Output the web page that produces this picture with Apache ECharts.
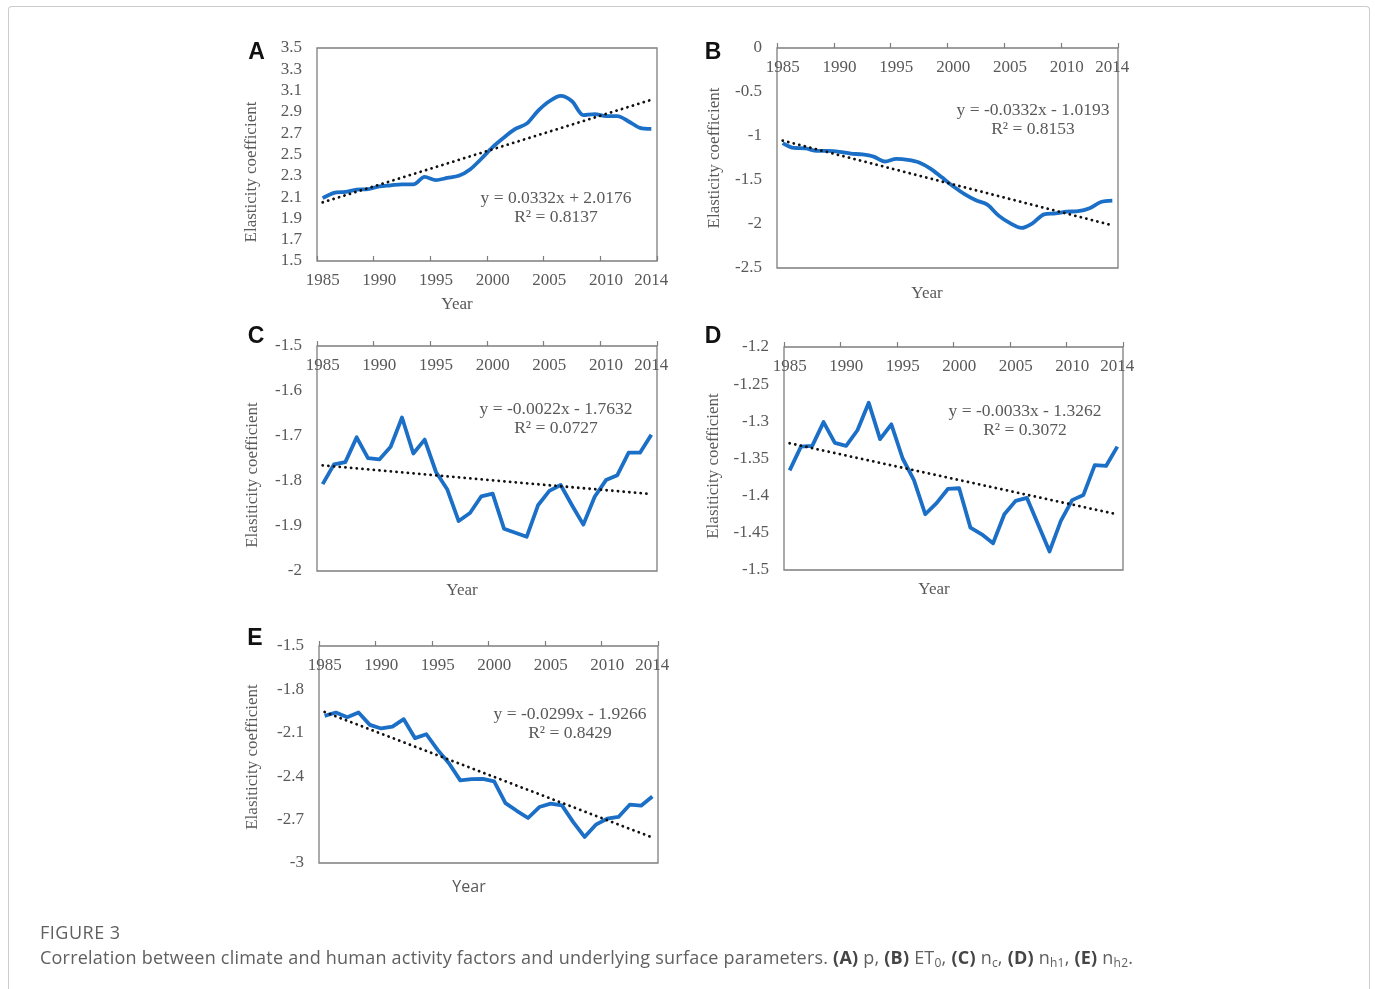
<!DOCTYPE html>
<html>
<head>
<meta charset="utf-8">
<script src="https://cdn.jsdelivr.net/npm/echarts@6/dist/echarts.min.js"></script>
<style>
  html, body { margin: 0; padding: 0; background: #fff; width: 1375px; height: 989px; overflow: hidden; }
  #frame { position: absolute; left: 8px; top: 6px; width: 1360px; height: 1010px;
           border: 1.5px solid #cccccc; border-bottom: none; border-radius: 4px 4px 0 0; }
  #chart { position: absolute; left: 0; top: 0; width: 1375px; height: 989px; }
  #caption { position: absolute; left: 40px; top: 920px; font-family: 'Open Sans', sans-serif; color: #606060; }
  #caption .head { font-size: 18px; line-height: 25px; letter-spacing: 0.5px; }
  #caption .body { font-size: 18px; line-height: 25px; letter-spacing: 0.22px; white-space: nowrap; }
  #caption b { color: #454545; }
  #caption sub { font-size: 12px; vertical-align: -3px; line-height: 0; }
</style>
</head>
<body>
<div id="frame"></div>
<div id="chart"></div>
<div id="caption">
  <div class="head">FIGURE 3</div>
  <div class="body">Correlation between climate and human activity factors and underlying surface parameters. <b>(A)</b> p, <b>(B)</b> ET<sub>0</sub>, <b>(C)</b> n<sub>c</sub>, <b>(D)</b> n<sub>h1</sub>, <b>(E)</b> n<sub>h2</sub>.</div>
</div>
<script>
// Years on the category axis
const years = ['1985','1986','1987','1988','1989','1990','1991','1992','1993','1994',
               '1995','1996','1997','1998','1999','2000','2001','2002','2003','2004',
               '2005','2006','2007','2008','2009','2010','2011','2012','2013','2014'];

// Elasticity coefficients per year
const seriesA = [2.09, 2.14, 2.15, 2.17, 2.175, 2.20, 2.21, 2.22, 2.22, 2.29,
                 2.26, 2.28, 2.30, 2.36, 2.46, 2.57, 2.66, 2.74, 2.79, 2.91,
                 3.00, 3.05, 3.00, 2.87, 2.88, 2.86, 2.86, 2.81, 2.75, 2.74];
const seriesB = [-1.08, -1.136, -1.14, -1.17, -1.17, -1.18, -1.20, -1.21, -1.235, -1.29,
                 -1.26, -1.27, -1.30, -1.37, -1.47, -1.57, -1.66, -1.73, -1.78, -1.905,
                 -1.99, -2.045, -1.99, -1.89, -1.88, -1.86, -1.855, -1.82, -1.75, -1.735];
const seriesC = [-1.807, -1.763, -1.758, -1.703, -1.749, -1.752, -1.724, -1.659, -1.739, -1.708,
                 -1.78, -1.819, -1.889, -1.871, -1.834, -1.828, -1.906, -1.915, -1.924, -1.854,
                 -1.822, -1.809, -1.854, -1.897, -1.835, -1.798, -1.787, -1.737, -1.737, -1.697];
const seriesD = [-1.366, -1.334, -1.333, -1.301, -1.329, -1.333, -1.312, -1.275, -1.324, -1.304,
                 -1.35, -1.379, -1.425, -1.41, -1.391, -1.39, -1.443, -1.452, -1.464, -1.425,
                 -1.407, -1.403, -1.439, -1.475, -1.434, -1.406, -1.399, -1.359, -1.36, -1.334];
const seriesE = [-1.983, -1.96, -1.992, -1.96, -2.045, -2.07, -2.057, -2.006, -2.137, -2.11,
                 -2.218, -2.31, -2.429, -2.42, -2.418, -2.436, -2.586, -2.639, -2.689, -2.613,
                 -2.59, -2.602, -2.717, -2.82, -2.735, -2.694, -2.682, -2.597, -2.604, -2.54];

// Linear trend coefficients (x = 1 for 1985) and R squared
const slopes     = [0.0332, -0.0332, -0.0022, -0.0033, -0.0299];
const intercepts = [2.0176, -1.0193, -1.7632, -1.3262, -1.9266];
const rSquared   = ['0.8137', '0.8153', '0.0727', '0.3072', '0.8429'];

// Y axis ranges [min, max, interval]
const yRanges = [[1.5, 3.5, 0.2], [-2.5, 0, 0.5], [-2, -1.5, 0.1], [-1.5, -1.2, 0.05], [-3, -1.5, 0.3]];

const panelLetters = ['A', 'B', 'C', 'D', 'E'];
const yTitles = ['Elasticity coefficient', 'Elasticity coefficient', 'Elasiticity coefficient',
                 'Elasiticity coefficient', 'Elasiticity coefficient'];
const xTitle = 'Year';
const allSeries = [seriesA, seriesB, seriesC, seriesD, seriesE];

// Layout of each panel
const layout = [
  { grid: [317, 48, 340, 213], xPos: 'bottom', smooth: 0.3, letter: [256.5, 53], yTitle: [252, 172], xTitleAt: [457, 305], eq: [556, 198], serifX: true },
  { grid: [777, 48, 341, 220], xPos: 'top',    smooth: 0.3, letter: [713, 53],   yTitle: [715, 158], xTitleAt: [927, 294], eq: [1033, 110], serifX: true },
  { grid: [317, 346, 340, 225], xPos: 'top',   smooth: false, letter: [256, 337], yTitle: [253, 475], xTitleAt: [462, 591], eq: [556, 409], serifX: true },
  { grid: [784, 347, 339, 223], xPos: 'top',   smooth: false, letter: [713, 337], yTitle: [714, 466], xTitleAt: [934, 590], eq: [1025, 411], serifX: true },
  { grid: [319, 646, 339, 217], xPos: 'top',   smooth: false, letter: [255, 639], yTitle: [253, 757], xTitleAt: [469, 887], eq: [570, 714], serifX: false }
];

const SERIF = "'Liberation Serif', 'Times New Roman', serif";
const SANS = "'Liberation Sans', Arial, sans-serif";
const textGray = '#595959';
const lineBlue = '#1c6fc6';

const grids = [], xAxes = [], yAxes = [], series = [], graphics = [];

function fmtCoef(v) {
  const s = Math.abs(v).toFixed(4);
  return v < 0 ? '- ' + s : '+ ' + s;
}

layout.forEach((p, i) => {
  const [l, t, w, h] = p.grid;
  grids.push({ left: l, top: t, width: w, height: h, show: true, borderColor: '#7e7e7e', borderWidth: 1.3, containLabel: false });
  const top = p.xPos === 'top';
  xAxes.push({
    type: 'category', gridIndex: i, data: years, position: p.xPos, boundaryGap: true,
    axisLine: { show: false },
    axisTick: { show: true, interval: (idx) => idx % 5 === 0, inside: !top, length: 5, lineStyle: { color: '#7e7e7e', width: 1.2 } },
    axisLabel: {
      inside: top, margin: 11, interval: (idx) => idx % 5 === 0 || idx === years.length - 1,
      fontFamily: SERIF, fontSize: 17, color: textGray
    },
    splitLine: { show: false }
  });
  const [mn, mx, iv] = yRanges[i];
  yAxes.push({
    type: 'value', gridIndex: i, min: mn, max: mx, interval: iv,
    axisLine: { show: false }, axisTick: { show: false }, splitLine: { show: false },
    axisLabel: { margin: 15, fontFamily: SERIF, fontSize: 17, color: textGray }
  });
  series.push({
    type: 'line', xAxisIndex: i, yAxisIndex: i, data: allSeries[i], symbol: 'none', smooth: p.smooth,
    lineStyle: { color: lineBlue, width: 3.8, join: 'round' }, z: 3, silent: true
  });
  // Trend line from the stated equation, at the first and last year
  const trend = years.map(() => null);
  trend[0] = slopes[i] * 1 + intercepts[i];
  trend[years.length - 1] = slopes[i] * years.length + intercepts[i];
  series.push({
    type: 'line', xAxisIndex: i, yAxisIndex: i, data: trend, connectNulls: true, symbol: 'none',
    lineStyle: { color: '#111', width: 2.8, type: [0.1, 5.6], cap: 'round' }, z: 4, silent: true
  });

  graphics.push({ type: 'text', x: p.letter[0], y: p.letter[1],
    style: { text: panelLetters[i], font: 'bold 23px ' + SANS, fill: '#111', align: 'center', verticalAlign: 'middle' } });
  graphics.push({ type: 'text', x: p.yTitle[0], y: p.yTitle[1], rotation: Math.PI / 2,
    style: { text: yTitles[i], font: '17px ' + SERIF, fill: textGray, align: 'center', verticalAlign: 'middle' } });
  graphics.push({ type: 'text', x: p.xTitleAt[0], y: p.xTitleAt[1],
    style: { text: xTitle, font: p.serifX ? '17px ' + SERIF : '16px ' + "'Open Sans', sans-serif", fill: textGray, align: 'center', verticalAlign: 'middle' } });
  const slopeTxt = (slopes[i] < 0 ? '-' : '') + Math.abs(slopes[i]).toFixed(4) + 'x';
  graphics.push({ type: 'text', x: p.eq[0], y: p.eq[1],
    style: { text: 'y = ' + slopeTxt + ' ' + fmtCoef(intercepts[i]), font: '17.5px ' + SERIF, fill: textGray, align: 'center', verticalAlign: 'middle' } });
  graphics.push({ type: 'text', x: p.eq[0], y: p.eq[1] + 19.5,
    style: { text: 'R\u00b2 = ' + rSquared[i], font: '17.5px ' + SERIF, fill: textGray, align: 'center', verticalAlign: 'middle' } });
});

const chart = echarts.init(document.getElementById('chart'), null, { renderer: 'canvas' });
chart.setOption({
  animation: false,
  backgroundColor: 'transparent',
  grid: grids, xAxis: xAxes, yAxis: yAxes, series: series,
  graphic: { elements: graphics }
});
</script>
</body>
</html>
